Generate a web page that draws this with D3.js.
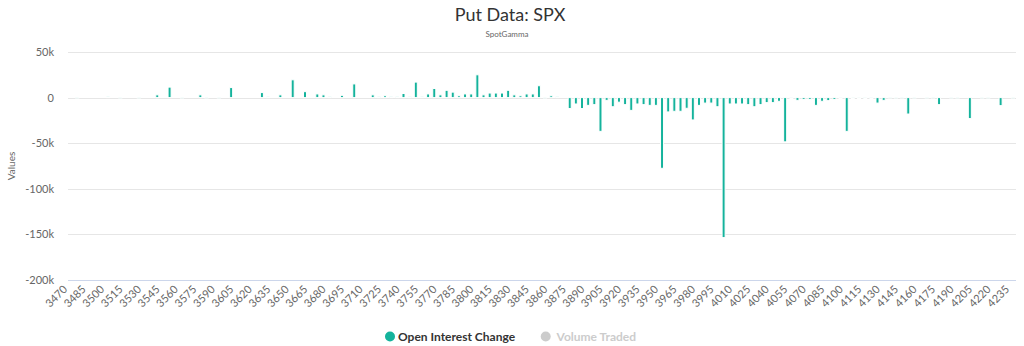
<!DOCTYPE html>
<html>
<head>
<meta charset="utf-8">
<script src="https://cdn.jsdelivr.net/npm/d3@7"></script>
<style>
  html, body { margin: 0; padding: 0; background: #fff; }
  svg { display: block; font-family: Lato, "Open Sans", sans-serif; }
</style>
</head>
<body>
<svg id="chart" width="1024" height="346"></svg>
<script>
// ---- data ----
const strikes = d3.range(3470, 4236, 5);           // category labels (strikes)
const openInterestChange = [
  null, 0, null, null, null, null, 1000, null, 0, null,          // 3470-3515
  null, 0, null, null, 3000, null, 11500, null, 0, null,         // 3520-3565
  null, 3000, 0, null, 0, null, 11000, null, null, null,         // 3570-3615
  null, 5500, 1000, null, 3000, null, 19500, null, 6500, null,   // 3620-3665
  4000, 3000, 1000, null, 2500, null, 15000, null, null, 3000,   // 3670-3715
  1000, 2000, 1000, 1000, 4500, 1000, 17000, 1000, 4000, 10000,  // 3720-3765
  3000, 8000, 6000, 2000, 4000, 4000, 25000, 3000, 5000, 5000,   // 3770-3815
  5000, 8000, 3000, 2000, 4000, 4000, 13000, 0, 2000, 1000,      // 3820-3865
  null, -12000, -7000, -12000, -8500, -7700, -37000, -3000, -10000, -5000,   // 3870-3915
  -7700, -14000, -7000, -7700, -8500, -8500, -77500, -15700, -15000, -15000, // 3920-3965
  -11700, -24500, -8500, -6000, -6000, -10000, -153500, -7000, -7000, -7000, // 3970-4015
  -7700, -10000, -7700, -5500, -5500, -4000, -48500, -1000, -3000, -2000,    // 4020-4065
  -2000, -8500, -4000, -3300, -2000, -1000, -37000, -1000, -1000, -1000,     // 4070-4115
  -1000, -6000, -3000, 0, -500, 0, -18000, 0, null, 0,                       // 4120-4165
  0, -7700, null, 0, 0, null, -23000, null, 0, 0,                            // 4170-4215
  null, -8800, null, 0                                                        // 4220-4235
];
const yTicks = [50000, 0, -50000, -100000, -150000, -200000];
const seriesNames = ["Open Interest Change", "Volume Traded"];
const titleText = "Put Data: SPX";
const subtitleText = "SpotGamma";
const yAxisTitle = "Values";

// ---- layout ----
const W = 1024, H = 346;
const plot = { left: 68, right: 1016, top: 52, bottom: 280 };
const teal = "#14b39c";

const svg = d3.select("#chart");

const x = d3.scaleBand()
  .domain(strikes.map(String))
  .range([plot.left, plot.right])
  .paddingInner(0).paddingOuter(0);

const y = d3.scaleLinear()
  .domain([-200000, 50000])
  .range([plot.bottom, plot.top]);

const crisp = v => Math.round(v) + 0.5;

// grid lines
svg.append("g").selectAll("line")
  .data(yTicks.filter(t => t !== -200000))
  .join("line")
  .attr("x1", plot.left).attr("x2", plot.right)
  .attr("y1", d => crisp(y(d))).attr("y2", d => crisp(y(d)))
  .attr("stroke", "#e6e6e6").attr("stroke-width", 1);

// x axis line
svg.append("line")
  .attr("x1", plot.left).attr("x2", plot.right)
  .attr("y1", crisp(y(-200000))).attr("y2", crisp(y(-200000)))
  .attr("stroke", "#ccd6eb").attr("stroke-width", 1);

// y tick labels
const fmt = d => d === 0 ? "0" : (d / 1000) + "k";
svg.append("g").selectAll("text")
  .data(yTicks)
  .join("text")
  .attr("x", 54)
  .attr("y", d => y(d) + 4)
  .attr("text-anchor", "end")
  .attr("font-size", 11)
  .attr("fill", "#666")
  .text(d => fmt(d));

// y axis title
svg.append("text")
  .attr("transform", `translate(15,${(plot.top + plot.bottom) / 2}) rotate(-90)`)
  .attr("text-anchor", "middle")
  .attr("font-size", 10)
  .attr("fill", "#666")
  .text(yAxisTitle);

// x tick labels (every 3rd category)
const bw = x.bandwidth();
svg.append("g").selectAll("text")
  .data(strikes.filter((s, i) => i % 3 === 0))
  .join("text")
  .attr("transform", d => `translate(${x(String(d)) + bw / 2 - 3},290) rotate(-45)`)
  .attr("text-anchor", "end")
  .attr("font-size", 11)
  .attr("fill", "#666")
  .text(d => d);

// bars
const barW = 3;
const data = strikes.map((s, i) => ({ s: String(s), v: openInterestChange[i] }))
  .filter(d => d.v !== null && d.v !== undefined);
svg.append("g").selectAll("rect")
  .data(data)
  .join("rect")
  .attr("x", d => x(d.s) + bw / 2 - barW / 2)
  .attr("y", d => Math.min(y(d.v), y(0)))
  .attr("width", barW)
  .attr("height", d => Math.max(Math.abs(y(d.v) - y(0)), 0.5))
  .attr("fill", teal)
  .attr("stroke", "#fff")
  .attr("stroke-width", 1);

// title & subtitle
svg.append("text")
  .attr("x", 510).attr("y", 21)
  .attr("text-anchor", "middle")
  .attr("font-size", 18)
  .attr("fill", "#333")
  .text(titleText);
svg.append("text")
  .attr("x", 507).attr("y", 37)
  .attr("text-anchor", "middle")
  .attr("font-size", 8)
  .attr("fill", "#666")
  .text(subtitleText);

// legend
const legend = svg.append("g");
const legendItems = [
  { name: seriesNames[0], cx: 390, tx: 398, color: teal, text: "#333" },
  { name: seriesNames[1], cx: 545.7, tx: 556.5, color: "#cccccc", text: "#cccccc" }
];
legend.selectAll("circle")
  .data(legendItems)
  .join("circle")
  .attr("cx", d => d.cx).attr("cy", 336.5).attr("r", 5)
  .attr("fill", d => d.color);
legend.selectAll("text")
  .data(legendItems)
  .join("text")
  .attr("x", d => d.tx).attr("y", 340.5)
  .attr("font-size", 12)
  .attr("font-weight", "bold")
  .attr("fill", d => d.text)
  .text(d => d.name);
</script>
</body>
</html>
